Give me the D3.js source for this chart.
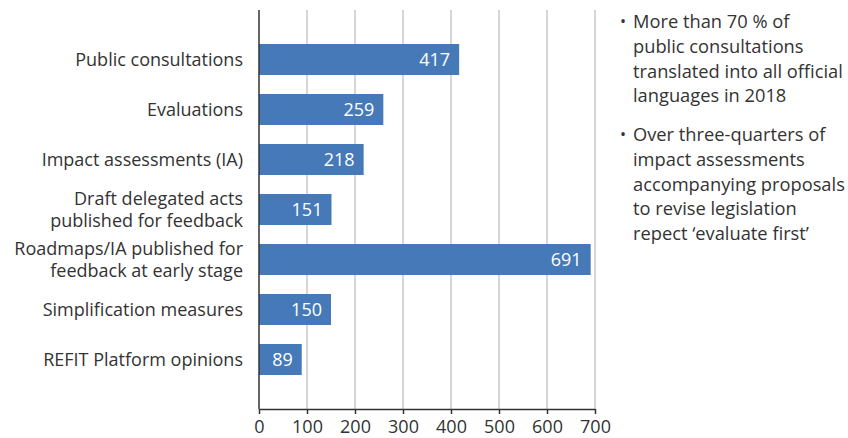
<!DOCTYPE html>
<html><head><meta charset="utf-8">
<script src="https://cdn.jsdelivr.net/npm/d3@7"></script>
<style>body{margin:0;background:#fff}svg{display:block}</style>
</head><body>
<svg id="c" width="848" height="438"></svg>
<script>
const categories = [
  ["Public consultations"],
  ["Evaluations"],
  ["Impact assessments (IA)"],
  ["Draft delegated acts", "published for feedback"],
  ["Roadmaps/IA published for", "feedback at early stage"],
  ["Simplification measures"],
  ["REFIT Platform opinions"]
];
const values = [417, 259, 218, 151, 691, 150, 89];
const xTicks = [0, 100, 200, 300, 400, 500, 600, 700];
const notes = [
  ["More than 70 % of", "public consultations", "translated into all official", "languages in 2018"],
  ["Over three-quarters of", "impact assessments", "accompanying proposals", "to revise legislation", "repect \u2018evaluate first\u2019"]
];

(function() {
const font = "'Open Sans', 'Noto Sans', sans-serif";
const textColor = "#333333";
const barColor = "#4679b8";
const svg = d3.select("#c");
const pLeft = 259, pRight = 595, pTop = 10, pBottom = 409;

const x = d3.scaleLinear().domain([0, 700]).range([pLeft, pRight]);
const y = d3.scaleBand().domain(d3.range(categories.length)).range([pTop, pBottom])
  .paddingInner(0.38).paddingOuter(0.68);

svg.append("g").selectAll("line").data(xTicks.slice(1)).join("line")
  .attr("x1", d => x(d)).attr("x2", d => x(d))
  .attr("y1", pTop).attr("y2", pBottom)
  .attr("stroke", "#c8c8c8").attr("stroke-width", 1.5);

svg.append("g").selectAll("rect").data(values).join("rect")
  .attr("x", x(0)).attr("y", (d, i) => y(i))
  .attr("width", d => x(d) - x(0)).attr("height", y.bandwidth())
  .attr("fill", barColor);

svg.append("g").selectAll("text").data(values).join("text")
  .attr("x", d => x(d) - 9).attr("y", (d, i) => y(i) + y.bandwidth() / 2)
  .attr("dy", "0.35em").attr("text-anchor", "end")
  .attr("font-family", font).attr("font-size", 18).attr("fill", "#fff")
  .text(d => d);

const xAxis = d3.axisBottom(x).tickValues(xTicks).tickSize(5).tickSizeOuter(0);
const gx = svg.append("g").attr("transform", `translate(0,${pBottom})`).call(xAxis);
gx.select(".domain").attr("stroke", "#333").attr("stroke-width", 1.5);
gx.selectAll(".tick line").attr("stroke", "#333").attr("stroke-width", 1.5);
gx.selectAll(".tick text").attr("font-family", font).attr("font-size", 18)
  .attr("fill", textColor).attr("dy", 0).attr("y", 24);

svg.append("line").attr("x1", pLeft).attr("x2", pLeft).attr("y1", pTop).attr("y2", pBottom)
  .attr("stroke", "#333").attr("stroke-width", 1.5);

const cl = svg.append("g").selectAll("text").data(categories).join("text")
  .attr("text-anchor", "end")
  .attr("font-family", font).attr("font-size", 18).attr("fill", textColor);
cl.each(function(lines, i) {
  const t = d3.select(this);
  const cy = y(i) + y.bandwidth() / 2;
  const lh = 22;
  lines.forEach((ln, k) => {
    t.append("tspan").attr("x", 243)
      .attr("y", cy + (k - (lines.length - 1) / 2) * lh)
      .attr("dy", "0.35em").text(ln);
  });
});

const startY = [28, 141];
const noteSize = 18.3;
notes.forEach((para, p) => {
  const g = svg.append("g");
  g.append("text").attr("x", 620).attr("y", startY[p] - 1)
    .attr("font-family", font).attr("font-size", 16).attr("fill", textColor).text("\u2022");
  para.forEach((ln, k) => {
    g.append("text").attr("x", 633).attr("y", startY[p] + k * 24.8)
      .attr("font-family", font).attr("font-size", noteSize).attr("fill", textColor).text(ln);
  });
});
})();
</script>
</body></html>
